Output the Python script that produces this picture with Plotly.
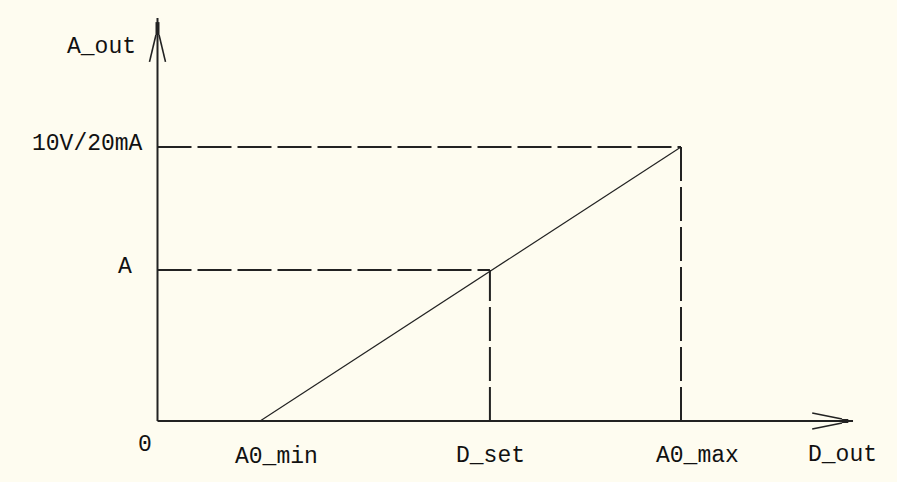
import plotly.graph_objects as go

# ---- data (normalised units: A0_max = 1 on x, 10V/20mA = 1 on y) ----
x_names = ["A0_min", "D_set", "A0_max"]
x_values = [0.196, 0.635, 1.0]
y_names = ["A", "10V/20mA"]
y_values = [0.551, 1.0]
line_x = [0.196, 1.0]
line_y = [0.0, 1.0]
axis_x_end = 1.3286
axis_y_end = 1.4708

W, H = 897, 482
X0, XS = 157.5, 523.5   # pixel of origin / pixels per unit
Y0, YS = 421.0, 274.0

BG = "#FEFCF0"
INK = "#222222"
FONT = dict(family="Liberation Mono, DejaVu Sans Mono, monospace", size=23, color="#111111")

fig = go.Figure()

def seg(xs, ys, width=2.0, dash="solid", color=INK):
    fig.add_trace(go.Scatter(x=xs, y=ys, mode="lines",
                             line=dict(color=color, width=width, dash=dash),
                             hoverinfo="skip", showlegend=False))

DASH = "34px,6px"
# dashed guides
seg([0, x_values[2]], [y_values[1], y_values[1]], dash=DASH)
seg([0, x_values[1]], [y_values[0], y_values[0]], dash=DASH)
seg([x_values[1], x_values[1]], [0, y_values[0]], dash=DASH)
seg([x_values[2], x_values[2]], [0, y_values[1]], dash=DASH)

# characteristic line
seg(line_x, line_y, width=1.2)

# axes
seg([0, axis_x_end], [0, 0], width=2.0)
seg([0, 0], [0, axis_y_end], width=2.0)

# arrowheads (open chevrons)
ax_dx = 8 / XS
seg([-ax_dx, -0.003], [axis_y_end - 0.16, axis_y_end - 0.062], width=1.6)
seg([ax_dx, 0.003], [axis_y_end - 0.16, axis_y_end - 0.062], width=1.6)
seg([0, 0], [axis_y_end - 0.062, axis_y_end - 0.015], width=4)

seg([axis_x_end - 0.078, axis_x_end - 0.021], [0.0292, 0.0073], width=1.6)
seg([axis_x_end - 0.078, axis_x_end - 0.021], [-0.0292, -0.0073], width=1.6)
seg([axis_x_end - 0.021, axis_x_end - 0.009], [0, 0], width=4)

# labels (pixel positions converted to paper coords)
labels = [
    ("A_out", 101, 47),
    (y_names[1], 87.5, 144),
    (y_names[0], 125, 267),
    ("0", 144.5, 445),
    (x_names[0], 276.5, 457),
    (x_names[1], 490.5, 456),
    (x_names[2], 697.5, 456),
    ("D_out", 842, 455),
]
for text, px, py in labels:
    fig.add_annotation(text=text, x=px / W, y=1 - py / H, xref="paper", yref="paper",
                       xanchor="center", yanchor="middle", showarrow=False, font=FONT)

fig.update_layout(
    width=W, height=H,
    margin=dict(l=0, r=0, t=0, b=0),
    paper_bgcolor=BG, plot_bgcolor=BG,
    xaxis=dict(range=[-X0 / XS, (W - X0) / XS], visible=False, fixedrange=True),
    yaxis=dict(range=[(Y0 - H) / YS, Y0 / YS], visible=False, fixedrange=True),
)

fig.write_html("out.html", config={"displayModeBar": False},
               post_script="document.body.style.margin='0px';document.body.style.overflow='hidden';")
